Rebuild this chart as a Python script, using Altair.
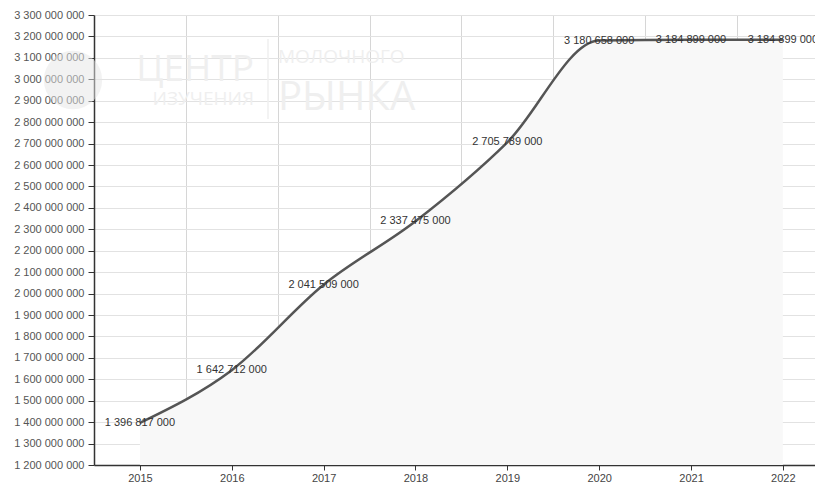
import altair as alt
import pandas as pd

years = [2015, 2016, 2017, 2018, 2019, 2020, 2021, 2022]
values = [1396817000, 1642712000, 2041509000, 2337475000,
          2705789000, 3180658000, 3184899000, 3184899000]

y_ticks = [1200000000 + i * 100000000 for i in range(22)]
x_ticks = [2015, 2015.5, 2016, 2016.5, 2017, 2017.5, 2018, 2018.5, 2019,
           2019.5, 2020, 2020.5, 2021, 2021.5, 2022]

df = pd.DataFrame({"year": years, "value": values})

FONT = "Liberation Sans"
SPACED = "replace(format(datum.value, ','), /,/g, ' ')"

x_enc = alt.X(
    "year:Q",
    scale=alt.Scale(domain=[2014.5, 2022.35], nice=False, zero=False),
    axis=alt.Axis(
        values=x_ticks,
        tickCount=40,
        title=None,
        labelExpr="datum.value % 1 === 0 ? format(datum.value, 'd') : ''",
        grid=True,
        gridColor="#d6d6d6",
        gridOpacity={"condition": {"test": "datum.value % 1 === 0", "value": 0}, "value": 1},
        tickOpacity={"condition": {"test": "datum.value % 1 === 0", "value": 1}, "value": 0},
        domainColor="#333333",
        domainWidth=1.5,
        tickColor="#333333",
        tickSize=5,
        labelFont=FONT,
        labelFontSize=11,
        labelColor="#444444",
        labelPadding=2,
        labelOverlap=False,
    ),
)
y_enc = alt.Y(
    "value:Q",
    scale=alt.Scale(domain=[1200000000, 3300000000], nice=False, zero=False),
    axis=alt.Axis(
        values=y_ticks,
        tickCount=40,
        title=None,
        labelExpr=SPACED,
        grid=True,
        gridColor="#e2e2e2",
        domainColor="#333333",
        domainWidth=1.5,
        tickColor="#333333",
        tickSize=6,
        labelFont=FONT,
        labelFontSize=11,
        labelColor="#555555",
        labelPadding=4,
        labelOverlap=False,
        labelFlush=False,
    ),
)

base = alt.Chart(df)

area = base.mark_area(interpolate="monotone", color="#f8f8f8").encode(
    x=x_enc, y=y_enc, y2=alt.datum(1200000000)
)
line = base.mark_line(interpolate="monotone", color="#555555", strokeWidth=2.5).encode(
    x="year:Q", y="value:Q"
)
labels = base.mark_text(font=FONT, fontSize=11, color="#333333", baseline="middle").encode(
    x="year:Q", y="value:Q", text="label:N"
).transform_calculate(label="replace(format(datum.value, ','), /,/g, ' ')")

one = pd.DataFrame({"a": [0]})
wm_color = "#efefef"
circle = alt.Chart(one).mark_point(filled=True, shape="circle", size=3400,
                                   color="#e6e6e6", opacity=0.5).encode(
    x=alt.value(-21), y=alt.value(65))
wm1 = alt.Chart(one).mark_text(text="ЦЕНТР", font="Open Sans", fontSize=37, color=wm_color,
                               align="right", baseline="alphabetic").encode(
    x=alt.value(160), y=alt.value(66))
wm2 = alt.Chart(one).mark_text(text="ИЗУЧЕНИЯ", font="Open Sans", fontSize=19, color=wm_color,
                               align="right", baseline="alphabetic").encode(
    x=alt.value(160), y=alt.value(90))
wm3 = alt.Chart(one).mark_text(text="МОЛОЧНОГО", font="Open Sans", fontSize=19, color=wm_color,
                               align="left", baseline="alphabetic").encode(
    x=alt.value(184), y=alt.value(48))
wm4 = alt.Chart(one).mark_text(text="РЫНКА", font="Open Sans", fontSize=40, color=wm_color,
                               align="left", baseline="alphabetic").encode(
    x=alt.value(184), y=alt.value(95))
wmline = alt.Chart(one).mark_rule(color=wm_color, strokeWidth=1.5).encode(
    x=alt.value(174), y=alt.value(24), y2=alt.value(104))

chart = alt.layer(circle, area, wm1, wm2, wm3, wm4, wmline, line, labels).properties(
    width=807,
    height=475,
    autosize=alt.AutoSizeParams(type="fit", contains="padding"),
    padding={"left": 5, "top": 1, "right": 0, "bottom": 0},
    background="white",
).configure_view(stroke=None)

chart.save("out.html", embed_options={"renderer": "svg", "actions": False})
